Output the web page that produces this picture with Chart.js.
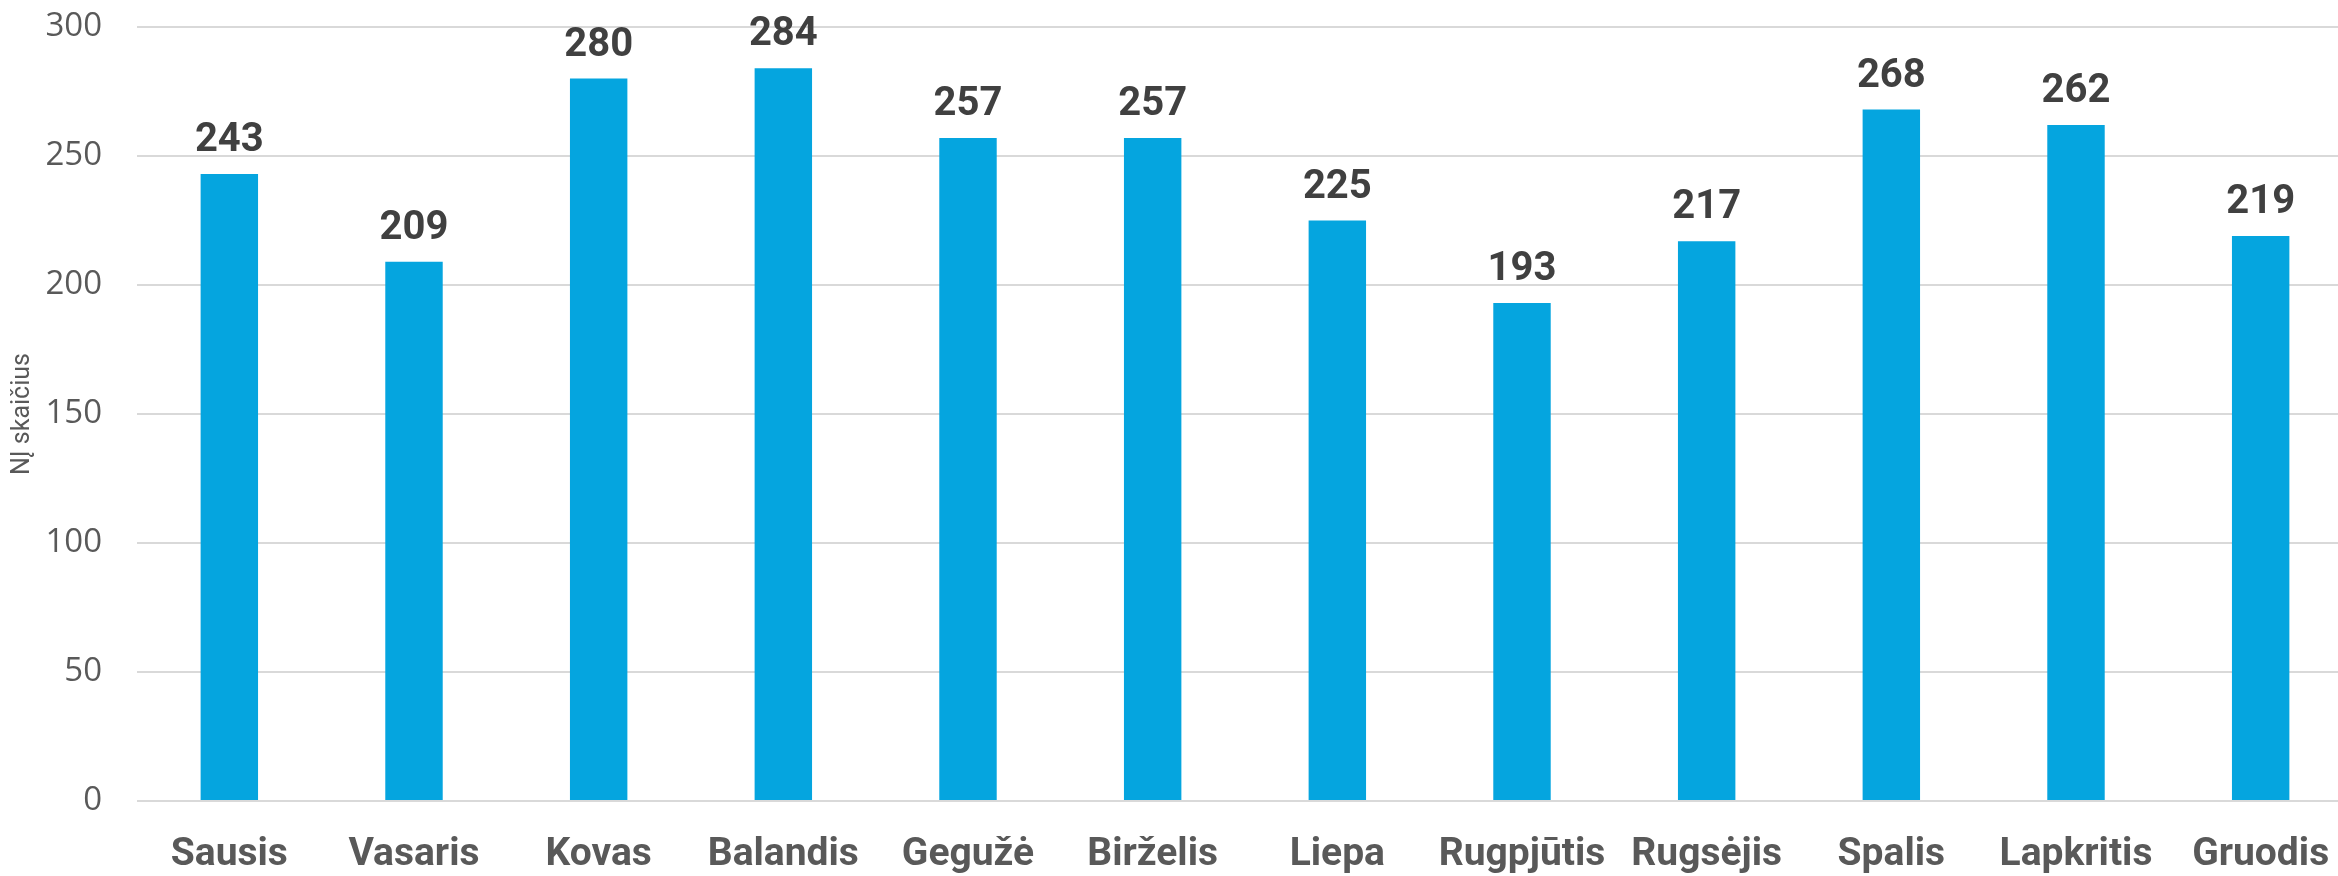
<!DOCTYPE html>
<html>
<head>
<meta charset="utf-8">
<script src="https://cdn.jsdelivr.net/npm/chart.js@4"></script>
<style>
    html, body { margin: 0; padding: 0; background: #ffffff; overflow: hidden; }
    #wrap { width: 2353px; height: 876px; }
</style>
</head>
<body>
<div id="wrap"><canvas id="monthChart" width="2353" height="876"></canvas></div>
<script>
// Chart data
const months = ['Sausis', 'Vasaris', 'Kovas', 'Balandis', 'Gegužė', 'Birželis', 'Liepa', 'Rugpjūtis', 'Rugsėjis', 'Spalis', 'Lapkritis', 'Gruodis'];
const counts = [243, 209, 280, 284, 257, 257, 225, 193, 217, 268, 262, 219];
const yTicks = [0, 50, 100, 150, 200, 250, 300];
const yTitle = 'NĮ skaičius';

const narrowFont = "'Liberation Sans Narrow', Roboto, sans-serif";

// Value labels above each bar
const valueLabels = {
    id: 'valueLabels',
    afterDatasetsDraw(chart) {
        const ctx = chart.ctx;
        const meta = chart.getDatasetMeta(0);
        ctx.save();
        ctx.font = "bold 40px " + narrowFont;
        ctx.fillStyle = '#404040';
        ctx.textAlign = 'center';
        ctx.textBaseline = 'alphabetic';
        meta.data.forEach((bar, i) => {
            ctx.fillText(String(counts[i]), bar.x, bar.y - 23);
        });
        ctx.restore();
    }
};

const ctx = document.getElementById('monthChart').getContext('2d');
new Chart(ctx, {
    type: 'bar',
    data: {
        labels: months,
        datasets: [{
            data: counts,
            backgroundColor: '#05A5DF',
            borderWidth: 0,
            barPercentage: 0.311,
            categoryPercentage: 1
        }]
    },
    options: {
        responsive: false,
        animation: false,
        layout: { padding: { top: 27, right: 0, bottom: 0, left: 0 } },
        plugins: {
            legend: { display: false },
            tooltip: { enabled: false }
        },
        scales: {
            x: {
                grid: { display: false, drawTicks: false },
                border: { display: false },
                ticks: {
                    color: '#595959',
                    padding: 31,
                    maxRotation: 0,
                    autoSkip: false,
                    font: { family: narrowFont, size: 39, weight: 'bold' }
                },
                afterFit(scale) {
                    scale.height = 75;
                    scale.paddingLeft = 0;
                    scale.paddingRight = 0;
                }
            },
            y: {
                min: 0,
                max: 300,
                afterBuildTicks(scale) { scale.ticks = yTicks.map(v => ({ value: v })); },
                grid: { color: '#d9d9d9', lineWidth: 2, drawTicks: false },
                border: { display: false },
                ticks: {
                    color: '#595959',
                    padding: 35,
                    font: { family: "'Open Sans', sans-serif", size: 33 }
                },
                title: {
                    display: true,
                    text: yTitle,
                    color: '#595959',
                    padding: { top: 8, bottom: 0 },
                    font: { family: narrowFont, size: 25 }
                },
                afterFit(scale) {
                    scale.width = 137;
                    scale.paddingTop = 0;
                    scale.paddingBottom = 0;
                }
            }
        }
    },
    plugins: [valueLabels]
});
</script>
</body>
</html>
